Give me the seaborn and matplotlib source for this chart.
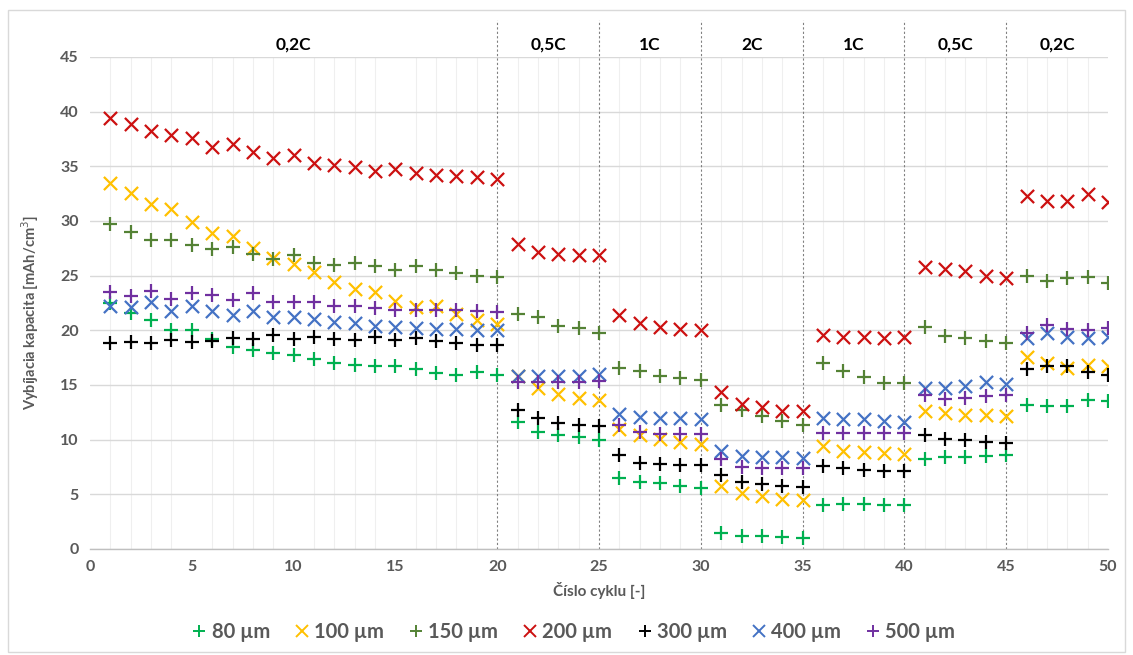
import numpy as np
import pandas as pd
import matplotlib
matplotlib.use("Agg")
import matplotlib.pyplot as plt
from matplotlib.lines import Line2D
from matplotlib.patches import Rectangle
import seaborn as sns

cycles = list(range(1, 51))

cap_80 = [22.5, 21.6, 20.95, 20.0, 20.0, 19.2, 18.5, 18.2, 17.9, 17.7,
          17.4, 17.0, 16.8, 16.7, 16.7, 16.5, 16.1, 15.9, 16.2, 15.9,
          11.6, 10.7, 10.4, 10.2, 10.0, 6.5, 6.1, 6.0, 5.8, 5.6,
          1.5, 1.2, 1.2, 1.1, 1.0, 4.0, 4.1, 4.1, 4.0, 4.0,
          8.2, 8.45, 8.45, 8.5, 8.6, 13.2, 13.1, 13.1, 13.6, 13.5]
cap_100 = [33.5, 32.6, 31.6, 31.1, 29.9, 28.9, 28.6, 27.5, 26.6, 26.1,
           25.3, 24.4, 23.8, 23.5, 22.7, 22.1, 22.2, 21.5, 20.95, 20.6,
           15.8, 14.7, 14.2, 13.8, 13.6, 10.95, 10.4, 10.1, 9.8, 9.6,
           5.8, 5.1, 4.85, 4.6, 4.5, 9.4, 9.0, 8.9, 8.75, 8.7,
           12.6, 12.4, 12.3, 12.3, 12.2, 17.6, 17.0, 16.6, 16.8, 16.7]
cap_150 = [29.7, 29.0, 28.3, 28.3, 27.8, 27.4, 27.6, 27.0, 26.5, 26.9,
           26.2, 26.0, 26.2, 25.9, 25.5, 25.9, 25.5, 25.2, 25.0, 24.9,
           21.5, 21.2, 20.4, 20.2, 19.8, 16.6, 16.3, 15.8, 15.6, 15.5,
           13.2, 12.7, 12.2, 11.7, 11.3, 17.0, 16.3, 15.7, 15.2, 15.2,
           20.3, 19.5, 19.3, 19.0, 18.8, 25.0, 24.55, 24.8, 24.85, 24.3]
cap_200 = [39.4, 38.9, 38.2, 37.9, 37.6, 36.8, 37.0, 36.3, 35.8, 36.0,
           35.3, 35.1, 34.9, 34.6, 34.8, 34.4, 34.2, 34.1, 34.0, 33.85,
           27.9, 27.2, 27.0, 26.9, 26.9, 21.4, 20.65, 20.3, 20.1, 20.0,
           14.4, 13.3, 12.95, 12.65, 12.6, 19.6, 19.4, 19.4, 19.3, 19.35,
           25.8, 25.6, 25.4, 25.0, 24.8, 32.3, 31.8, 31.8, 32.5, 31.7]
cap_300 = [18.8, 18.9, 18.8, 19.1, 18.9, 19.0, 19.3, 19.2, 19.6, 19.2,
           19.4, 19.2, 19.1, 19.4, 19.1, 19.3, 19.0, 18.8, 18.7, 18.65,
           12.7, 11.95, 11.5, 11.35, 11.25, 8.6, 7.9, 7.75, 7.7, 7.7,
           6.8, 6.1, 5.9, 5.75, 5.7, 7.6, 7.4, 7.2, 7.15, 7.1,
           10.4, 10.1, 9.95, 9.75, 9.7, 16.5, 16.7, 16.7, 16.2, 15.9]
cap_400 = [22.2, 22.1, 22.6, 21.8, 22.2, 21.8, 21.4, 21.8, 21.2, 21.2,
           21.0, 20.8, 20.65, 20.4, 20.3, 20.2, 20.1, 20.1, 20.0, 20.0,
           15.8, 15.8, 15.8, 15.8, 16.0, 12.35, 12.1, 11.95, 11.95, 11.9,
           9.0, 8.5, 8.45, 8.4, 8.3, 11.95, 11.9, 11.85, 11.75, 11.65,
           14.7, 14.75, 14.9, 15.25, 15.1, 19.3, 19.8, 19.4, 19.3, 19.4]
cap_500 = [23.5, 23.1, 23.6, 22.9, 23.45, 23.2, 22.8, 23.4, 22.6, 22.6,
           22.6, 22.2, 22.2, 22.0, 21.9, 21.9, 21.9, 21.9, 21.8, 21.7,
           15.3, 15.3, 15.3, 15.3, 15.4, 11.35, 10.7, 10.5, 10.5, 10.5,
           8.2, 7.5, 7.4, 7.4, 7.4, 10.65, 10.6, 10.6, 10.6, 10.6,
           14.1, 13.7, 13.8, 14.0, 14.1, 19.8, 20.5, 20.1, 20.0, 20.2]

series_names = ["80 µm", "100 µm", "150 µm", "200 µm", "300 µm", "400 µm", "500 µm"]
series_values = [cap_80, cap_100, cap_150, cap_200, cap_300, cap_400, cap_500]
series_markers = ["+", "x", "+", "x", "+", "x", "+"]
series_colors = ["#00B050", "#FFC000", "#548235", "#CC1010", "#000000", "#4472C4", "#7030A0"]

rate_boundaries = [20, 25, 30, 35, 40, 45]
rate_labels = ["0,2C", "0,5C", "1C", "2C", "1C", "0,5C", "0,2C"]
rate_label_x = [10, 22.5, 27.5, 32.5, 37.5, 42.5, 47.5]

sns.set_theme(style="white")
plt.rcParams['font.family'] = ['Lato', 'DejaVu Sans']

fig = plt.figure(figsize=(11.33, 6.55), dpi=100)
ax = fig.add_axes([90 / 1133, 1 - 549 / 655, (1108 - 90) / 1133, (549 - 57) / 655])

# outer chart border
fig.patches.append(Rectangle((8 / 1133, 0.004), 1 - 16 / 1133, 1 - 10 / 655 - 0.004,
                             transform=fig.transFigure, fill=False,
                             edgecolor="#D9D9D9", linewidth=1.0))

df = pd.concat([pd.DataFrame({"cycle": cycles, "cap": v, "series": n})
                for n, v in zip(series_names, series_values)], ignore_index=True)

for name, mk, col in zip(series_names, series_markers, series_colors):
    sub = df[df["series"] == name]
    sns.scatterplot(data=sub, x="cycle", y="cap", marker=mk, color=col,
                    s=110 if mk == "+" else 90, linewidth=1.6, ax=ax, legend=False, zorder=3)

ax.set_xlim(0, 50)
ax.set_ylim(0, 45)
ax.set_xticks(range(0, 51, 5))
ax.set_yticks(range(0, 46, 5))
ax.set_xticks(range(0, 51, 1), minor=True)
ax.grid(False)
ax.grid(axis="y", which="major", color="#D9D9D9", linewidth=1.0, zorder=0)
ax.grid(axis="x", which="minor", color="#EFEFEF", linewidth=0.8, zorder=0)
ax.set_axisbelow(True)
for s in ["top", "right", "left"]:
    ax.spines[s].set_visible(False)
ax.spines["bottom"].set_color("#BFBFBF")
ax.spines["bottom"].set_linewidth(1.0)
ax.tick_params(axis="both", which="both", length=0, labelsize=11.5, labelcolor="#595959", pad=8)
for lbl in ax.get_xticklabels() + ax.get_yticklabels():
    lbl.set_fontweight("bold")

for b in rate_boundaries:
    ax.plot([b, b], [0, 48.4], linestyle=(0, (2, 2)), color="#808080", linewidth=0.8,
            clip_on=False, zorder=2)
for lx, lt in zip(rate_label_x, rate_labels):
    ax.text(lx, 46.1, lt, ha="center", va="center", fontsize=12.5, fontweight="bold",
            color="#000000", clip_on=False)

ax.set_xlabel("Číslo cyklu [-]", fontsize=11, fontweight="bold", color="#595959", labelpad=6)
ax.set_ylabel("Vybíjacia kapacita [mAh/cm$^3$]", fontsize=10.5, fontweight="bold",
              color="#595959", labelpad=10)
ax.yaxis.set_label_coords(-0.048, 0.48)

handles = [Line2D([0], [0], marker=mk, color=col, linestyle="none", markersize=9,
                  markeredgewidth=1.4) for mk, col in zip(series_markers, series_colors)]
leg = fig.legend(handles, series_names, loc="center", bbox_to_anchor=(0.505, 1 - 632 / 655),
                 ncol=7, frameon=False, fontsize=14.5, handletextpad=0.1, columnspacing=1.1,
                 handlelength=1.0)
for t in leg.get_texts():
    t.set_fontweight("bold")
    t.set_color("#595959")

fig.savefig("out.png", dpi=100)
